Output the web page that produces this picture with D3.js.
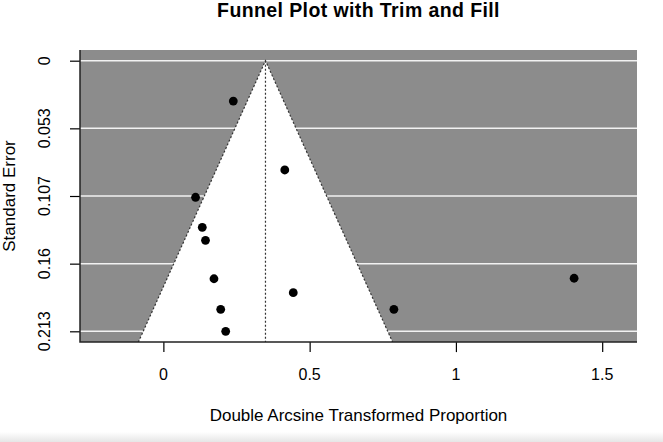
<!DOCTYPE html>
<html>
<head>
<meta charset="utf-8">
<script src="https://cdn.jsdelivr.net/npm/d3@7"></script>
<style>
  body { margin: 0; background: #fff; }
  svg text { font-family: "Liberation Sans", Arial, sans-serif; fill: #000; }
</style>
</head>
<body>
<div id="graph"></div>
<script>
/*
    Data
*/
var estimates = [0.239, 0.415, 0.110, 0.133, 0.144, 0.173, 0.444, 0.196, 0.213, 0.788, 1.404]
var stdErrors = [0.0318, 0.0861, 0.1076, 0.1313, 0.1415, 0.1718, 0.1828, 0.1959, 0.2132, 0.1959, 0.1714]
var pooled = 0.349

var seTicks = [0, 0.0533, 0.1066, 0.1599, 0.2132]
var seLabels = ["0", "0.053", "0.107", "0.16", "0.213"]
var xTicks = [0, 0.5, 1, 1.5]
var xLabels = ["0", "0.5", "1", "1.5"]

/*
    Dimensions
*/
var W = 663, H = 442
var plot = {left: 80, right: 637, top: 49.9, bottom: 342.1}

var svg = d3.select("#graph").append("svg")
    .attr("width", W)
    .attr("height", H)

// soft shading at the very bottom of the screenshot
var grad = svg.append("defs").append("linearGradient")
    .attr("id", "shade").attr("x1", 0).attr("x2", 0).attr("y1", 0).attr("y2", 1)
grad.append("stop").attr("offset", "0%").attr("stop-color", "#ffffff")
grad.append("stop").attr("offset", "100%").attr("stop-color", "#e6e6e6")
svg.append("rect")
    .attr("x", 0).attr("y", 432).attr("width", W).attr("height", 10)
    .attr("fill", "url(#shade)")

/*
    Scales
*/
var x = d3.scaleLinear()
    .domain([-0.285, 1.619])
    .range([plot.left, plot.right])

var y = d3.scaleLinear()
    .domain([-0.0085, 0.2217])
    .range([plot.top, plot.bottom])

svg.append("clipPath").attr("id", "clip")
    .append("rect")
    .attr("x", plot.left).attr("y", plot.top)
    .attr("width", plot.right - plot.left)
    .attr("height", plot.bottom - plot.top)

var g = svg.append("g").attr("clip-path", "url(#clip)")

// gray background
g.append("rect")
    .attr("x", plot.left).attr("y", plot.top)
    .attr("width", plot.right - plot.left)
    .attr("height", plot.bottom - plot.top)
    .attr("fill", "#8c8c8c")

// white horizontal lines at the ticks
g.selectAll(".hline")
    .data(seTicks)
    .enter().append("line")
    .attr("class", "hline")
    .attr("x1", plot.left).attr("x2", plot.right)
    .attr("y1", function(d) { return y(d) })
    .attr("y2", function(d) { return y(d) })
    .attr("stroke", "#f2f2f2")
    .attr("stroke-width", 1.5)

// funnel
var seMax = y.domain()[1]
var funnel = [
    [pooled - 1.96 * seMax, seMax],
    [pooled, 0],
    [pooled + 1.96 * seMax, seMax]
]
var funnelLine = d3.line()
    .x(function(d) { return x(d[0]) })
    .y(function(d) { return y(d[1]) })

g.append("path")
    .attr("d", funnelLine(funnel) + "Z")
    .attr("fill", "#fff")
    .attr("stroke", "none")

g.append("path")
    .attr("d", funnelLine(funnel))
    .attr("fill", "none")
    .attr("stroke", "#333")
    .attr("stroke-width", 1.2)
    .attr("stroke-dasharray", "2,2")

g.append("line")
    .attr("x1", x(pooled)).attr("x2", x(pooled))
    .attr("y1", y(0)).attr("y2", y(seMax))
    .attr("stroke", "#333")
    .attr("stroke-width", 1.2)
    .attr("stroke-dasharray", "2,2")

// studies
g.selectAll(".dot")
    .data(estimates)
    .enter().append("circle")
    .attr("class", "dot")
    .attr("cx", function(d) { return x(d) })
    .attr("cy", function(d, i) { return y(stdErrors[i]) })
    .attr("r", 4.4)
    .attr("fill", "#000")

/*
    Axes
*/
svg.append("g")
    .attr("transform", "translate(" + plot.left + ",0)")
    .call(d3.axisLeft(y).tickValues(seTicks).tickSize(10).tickFormat(""))
    .call(function(a) { a.select(".domain").remove() })

svg.append("g")
    .attr("transform", "translate(0," + plot.bottom + ")")
    .call(d3.axisBottom(x).tickValues(xTicks).tickSize(10).tickFormat(""))
    .call(function(a) { a.select(".domain").remove() })

svg.selectAll(".tick line").attr("stroke", "#000").attr("stroke-width", 1.2)

// L-shaped box
svg.append("path")
    .attr("d", "M" + plot.left + "," + plot.top + "V" + plot.bottom + "H" + plot.right)
    .attr("fill", "none")
    .attr("stroke", "#222")
    .attr("stroke-width", 1.5)

// tick labels
svg.selectAll(".ylab")
    .data(seTicks)
    .enter().append("text")
    .attr("class", "ylab")
    .attr("transform", function(d) { return "translate(50," + y(d) + ") rotate(-90)" })
    .attr("text-anchor", "middle")
    .style("font-size", "16px")
    .text(function(d, i) { return seLabels[i] })

svg.selectAll(".xlab")
    .data(xTicks)
    .enter().append("text")
    .attr("class", "xlab")
    .attr("x", function(d) { return x(d) })
    .attr("y", 380)
    .attr("text-anchor", "middle")
    .style("font-size", "16px")
    .text(function(d, i) { return xLabels[i] })

// titles
svg.append("text")
    .attr("x", (plot.left + plot.right) / 2)
    .attr("y", 16.5)
    .attr("text-anchor", "middle")
    .style("font-size", "19.5px")
    .style("font-weight", "bold")
    .style("letter-spacing", "0.4px")
    .text("Funnel Plot with Trim and Fill")

svg.append("text")
    .attr("x", (plot.left + plot.right) / 2)
    .attr("y", 420.5)
    .attr("text-anchor", "middle")
    .style("font-size", "17px")
    .text("Double Arcsine Transformed Proportion")

svg.append("text")
    .attr("transform", "translate(15," + (plot.top + plot.bottom) / 2 + ") rotate(-90)")
    .attr("text-anchor", "middle")
    .style("font-size", "17px")
    .text("Standard Error")
</script>
</body>
</html>
